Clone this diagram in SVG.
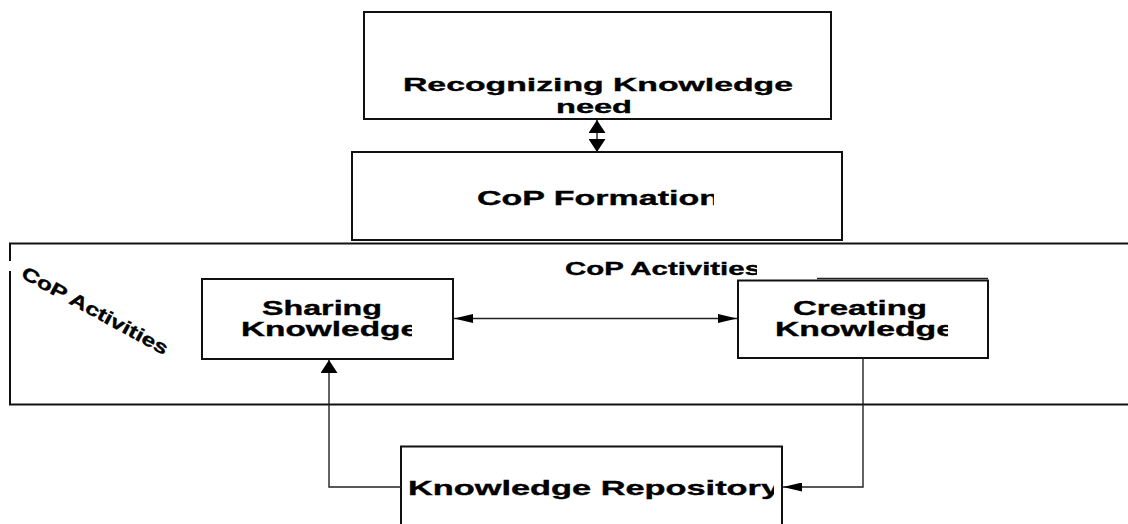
<svg xmlns="http://www.w3.org/2000/svg" width="1128" height="524" viewBox="0 0 1128 524">
  <style>
    .box { fill: #fff; stroke: #111; stroke-width: 2; }
    .edge { fill: none; stroke: #111; stroke-width: 2; }
    .conn { fill: none; stroke: #222; stroke-width: 1.4; }
    .lbl { font-family: "Liberation Sans", Arial, sans-serif; font-weight: bold; font-size: 20.5px; fill: #000; stroke: #000; stroke-width: 0.35; }
    .tight { font-size: 19px; }
    .small { font-size: 18.5px; }
  </style>
  <defs>
    <!-- arrowheads: horizontal runs get long narrow heads, vertical runs get short wide heads -->
    <marker id="ah-h" markerUnits="userSpaceOnUse" markerWidth="19" markerHeight="9" refX="19" refY="4.5" orient="auto-start-reverse">
      <path d="M0,0 L19,4.5 L0,9 Z" fill="#000"/>
    </marker>
    <marker id="ah-v" markerUnits="userSpaceOnUse" markerWidth="13" markerHeight="17" refX="13" refY="8.5" orient="auto-start-reverse">
      <path d="M0,0 L13,8.5 L0,17 Z" fill="#000"/>
    </marker>
    <clipPath id="clip-formation" clipPathUnits="userSpaceOnUse"><rect x="0" y="0" width="714" height="524"/></clipPath>
    <clipPath id="clip-activities" clipPathUnits="userSpaceOnUse"><rect x="0" y="0" width="757" height="524"/></clipPath>
    <clipPath id="clip-sharing" clipPathUnits="userSpaceOnUse"><rect x="0" y="0" width="412" height="524"/></clipPath>
    <clipPath id="clip-creating" clipPathUnits="userSpaceOnUse"><rect x="0" y="0" width="948" height="524"/></clipPath>
    <clipPath id="clip-repo" clipPathUnits="userSpaceOnUse"><rect x="0" y="0" width="774" height="524"/></clipPath>
  </defs>

  <rect width="1128" height="524" fill="#fff"/>

  <!-- activities container (open on the right) -->
  <g id="cop-activities">
    <path class="edge" d="M1128,243.5 H10 V261"/>
    <path class="edge" d="M10,271 V404.5 H1128"/>
    <text class="lbl small" x="565" y="275" textLength="196" lengthAdjust="spacingAndGlyphs" clip-path="url(#clip-activities)">CoP Activities</text>
    <text class="lbl small" transform="translate(20,277) rotate(28.5)" x="0" y="0" textLength="164" lengthAdjust="spacingAndGlyphs">CoP Activities</text>
  </g>

  <g id="need">
    <rect class="box" x="364" y="12" width="467" height="107"/>
    <text class="lbl tight" x="403" y="91" textLength="390" lengthAdjust="spacingAndGlyphs">Recognizing Knowledge</text>
    <text class="lbl tight" x="556" y="113" textLength="76" lengthAdjust="spacingAndGlyphs">need</text>
  </g>

  <g id="formation">
    <rect class="box" x="352" y="152" width="490" height="88"/>
    <text class="lbl" x="477" y="204.5" textLength="243" lengthAdjust="spacingAndGlyphs" clip-path="url(#clip-formation)">CoP Formation</text>
  </g>

  <g id="sharing">
    <rect class="box" x="202" y="279" width="251" height="80"/>
    <text class="lbl" x="262" y="314.5" textLength="120" lengthAdjust="spacingAndGlyphs">Sharing</text>
    <text class="lbl" x="241" y="335.5" textLength="178" lengthAdjust="spacingAndGlyphs" clip-path="url(#clip-sharing)">Knowledge</text>
  </g>

  <g id="creating">
    <rect class="box" x="738" y="280.5" width="250" height="77.5"/>
    <path class="conn" d="M817,278.5 H988"/>
    <text class="lbl" x="793" y="314.5" textLength="134" lengthAdjust="spacingAndGlyphs">Creating</text>
    <text class="lbl" x="775" y="335.5" textLength="180" lengthAdjust="spacingAndGlyphs" clip-path="url(#clip-creating)">Knowledge</text>
  </g>

  <g id="repository">
    <path class="box" d="M401,530 V446.5 H782 V530"/>
    <text class="lbl" x="408" y="494.5" textLength="372" lengthAdjust="spacingAndGlyphs" clip-path="url(#clip-repo)">Knowledge Repository</text>
  </g>

  <g id="connectors">
    <line class="conn" x1="597" y1="120" x2="597" y2="152" marker-start="url(#ah-v)" marker-end="url(#ah-v)"/>
    <line class="conn" x1="454" y1="318.5" x2="737" y2="318.5" marker-start="url(#ah-h)" marker-end="url(#ah-h)"/>
    <path class="conn" d="M401,487 H329 V360" marker-end="url(#ah-v)"/>
    <path class="conn" d="M863,358 V487 H783" marker-end="url(#ah-h)"/>
  </g>
</svg>
